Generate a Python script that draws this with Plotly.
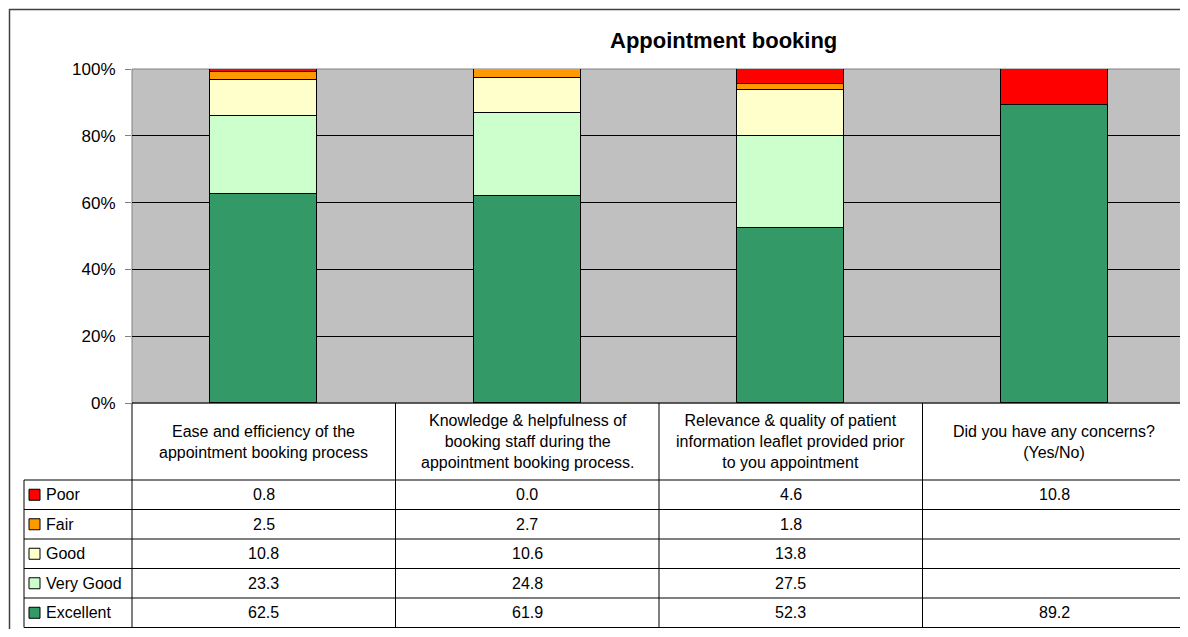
import plotly.graph_objects as go

# categories (header of the data table) and series values in percent
categories = [
    "Ease and efficiency of the<br>appointment booking process",
    "Knowledge & helpfulness of<br>booking staff during the<br>appointment booking process.",
    "Relevance & quality of patient<br>information leaflet provided prior<br>to you appointment",
    "Did you have any concerns?<br>(Yes/No)",
]
series_names = ["Poor", "Fair", "Good", "Very Good", "Excellent"]
poor = [0.8, 0.0, 4.6, 10.8]
fair = [2.5, 2.7, 1.8, None]
good = [10.8, 10.6, 13.8, None]
very_good = [23.3, 24.8, 27.5, None]
excellent = [62.5, 61.9, 52.3, 89.2]
colors = ["#FF0000", "#FF9900", "#FFFFCC", "#CCFFCC", "#339966"]
y_ticks = [0, 20, 40, 60, 80, 100]

# page has an 8px body margin, figure starts at (8, 8) in the window
OFF = 8
W, H = 1188 - OFF, 637 - 2 * OFF
FONT = "Arial, Liberation Sans, sans-serif"


def px(x):
    return (x - OFF) / W


def py(y):
    return 1 - (y - OFF) / H


# plot area in window pixels
X0, X1, Y0, Y1 = 132, 1186, 69, 403
HEAD_B = 480
ROW_H = 29.5
LEG_X = 24

values = [poor, fair, good, very_good, excellent]

fig = go.Figure()
# stack from bottom: Excellent first
for name, vals, col in reversed(list(zip(series_names, values, colors))):
    fig.add_trace(go.Bar(
        x=list(range(len(categories))), y=[v if v is not None else 0 for v in vals],
        name=name, marker=dict(color=col, line=dict(color="black", width=1)),
        width=0.407, showlegend=False, hoverinfo="skip",
    ))

shapes = []
annotations = []

# outer chart border
shapes.append(dict(type="line", xref="paper", yref="paper", x0=px(9), x1=px(1200), y0=py(9.5), y1=py(9.5),
                   line=dict(color="#404040", width=1.5)))
shapes.append(dict(type="line", xref="paper", yref="paper", x0=px(9.5), x1=px(9.5), y0=py(9), y1=py(660),
                   line=dict(color="#404040", width=1.5)))

# plot area frame
shapes.append(dict(type="rect", xref="paper", yref="paper", x0=px(X0), x1=px(X1), y0=py(Y1), y1=py(Y0),
                   line=dict(color="#808080", width=1), layer="below"))

# table grid
ncol = len(categories)
col_w = (X1 - X0) / ncol
edges = [X0 + i * col_w for i in range(ncol + 1)]
row_edges = [HEAD_B + i * ROW_H for i in range(len(series_names) + 1)]
table_bottom = row_edges[-1]
for xe in edges:
    shapes.append(dict(type="line", xref="paper", yref="paper", x0=px(xe), x1=px(xe),
                       y0=py(Y1), y1=py(table_bottom), line=dict(color="black", width=1)))
shapes.append(dict(type="line", xref="paper", yref="paper", x0=px(LEG_X), x1=px(LEG_X),
                   y0=py(HEAD_B), y1=py(table_bottom), line=dict(color="black", width=1)))
shapes.append(dict(type="line", xref="paper", yref="paper", x0=px(X0), x1=px(X1),
                   y0=py(Y1), y1=py(Y1), line=dict(color="black", width=1)))
for ye in row_edges:
    shapes.append(dict(type="line", xref="paper", yref="paper", x0=px(LEG_X), x1=px(X1),
                       y0=py(ye), y1=py(ye), line=dict(color="black", width=1)))

# header cells
for i, cat in enumerate(categories):
    annotations.append(dict(text=cat, xref="paper", yref="paper", x=px(edges[i] + col_w / 2),
                            y=py((Y1 + HEAD_B) / 2), showarrow=False, xanchor="center", yanchor="middle",
                            font=dict(size=16, color="black", family=FONT)))

# rows with legend keys and values
for r, (name, vals, col) in enumerate(zip(series_names, values, colors)):
    yc = (row_edges[r] + row_edges[r + 1]) / 2
    shapes.append(dict(type="rect", xref="paper", yref="paper", x0=px(29), x1=px(40),
                       y0=py(yc - 5.5), y1=py(yc + 5.5), fillcolor=col, line=dict(color="black", width=1)))
    annotations.append(dict(text=name, xref="paper", yref="paper", x=px(44), y=py(yc),
                            showarrow=False, xanchor="left", yanchor="middle",
                            font=dict(size=16, color="black", family=FONT)))
    for i, v in enumerate(vals):
        if v is None:
            continue
        annotations.append(dict(text=f"{v:.1f}", xref="paper", yref="paper", x=px(edges[i] + col_w / 2),
                                y=py(yc), showarrow=False, xanchor="center", yanchor="middle",
                                font=dict(size=16, color="black", family=FONT)))

# title
annotations.append(dict(text="<b>Appointment booking</b>", xref="paper", yref="paper", x=px(723), y=py(40),
                        showarrow=False, xanchor="center", yanchor="middle",
                        font=dict(size=22, color="black", family=FONT)))

fig.update_layout(
    width=W, height=H, margin=dict(l=0, r=0, t=0, b=0, pad=0, autoexpand=False),
    paper_bgcolor="white", plot_bgcolor="#C0C0C0",
    barmode="stack", barnorm="percent", bargap=0,
    font=dict(family=FONT, size=16, color="black"),
    shapes=shapes, annotations=annotations,
    xaxis=dict(domain=[px(X0), px(X1)], range=[-0.5, ncol - 0.5], showticklabels=False,
               showgrid=False, zeroline=False, fixedrange=True, automargin=False),
    yaxis=dict(domain=[py(Y1), py(Y0)], range=[0, 100], tickvals=y_ticks,
               ticktext=[f"{t}%" for t in y_ticks], ticks="outside", ticklen=6, tickcolor="#808080",
               ticklabelstandoff=6, automargin=False,
               showgrid=True, gridcolor="black", gridwidth=1, zeroline=False,
               tickfont=dict(size=17, color="black", family=FONT), fixedrange=True),
)

fig.write_html("out.html")
